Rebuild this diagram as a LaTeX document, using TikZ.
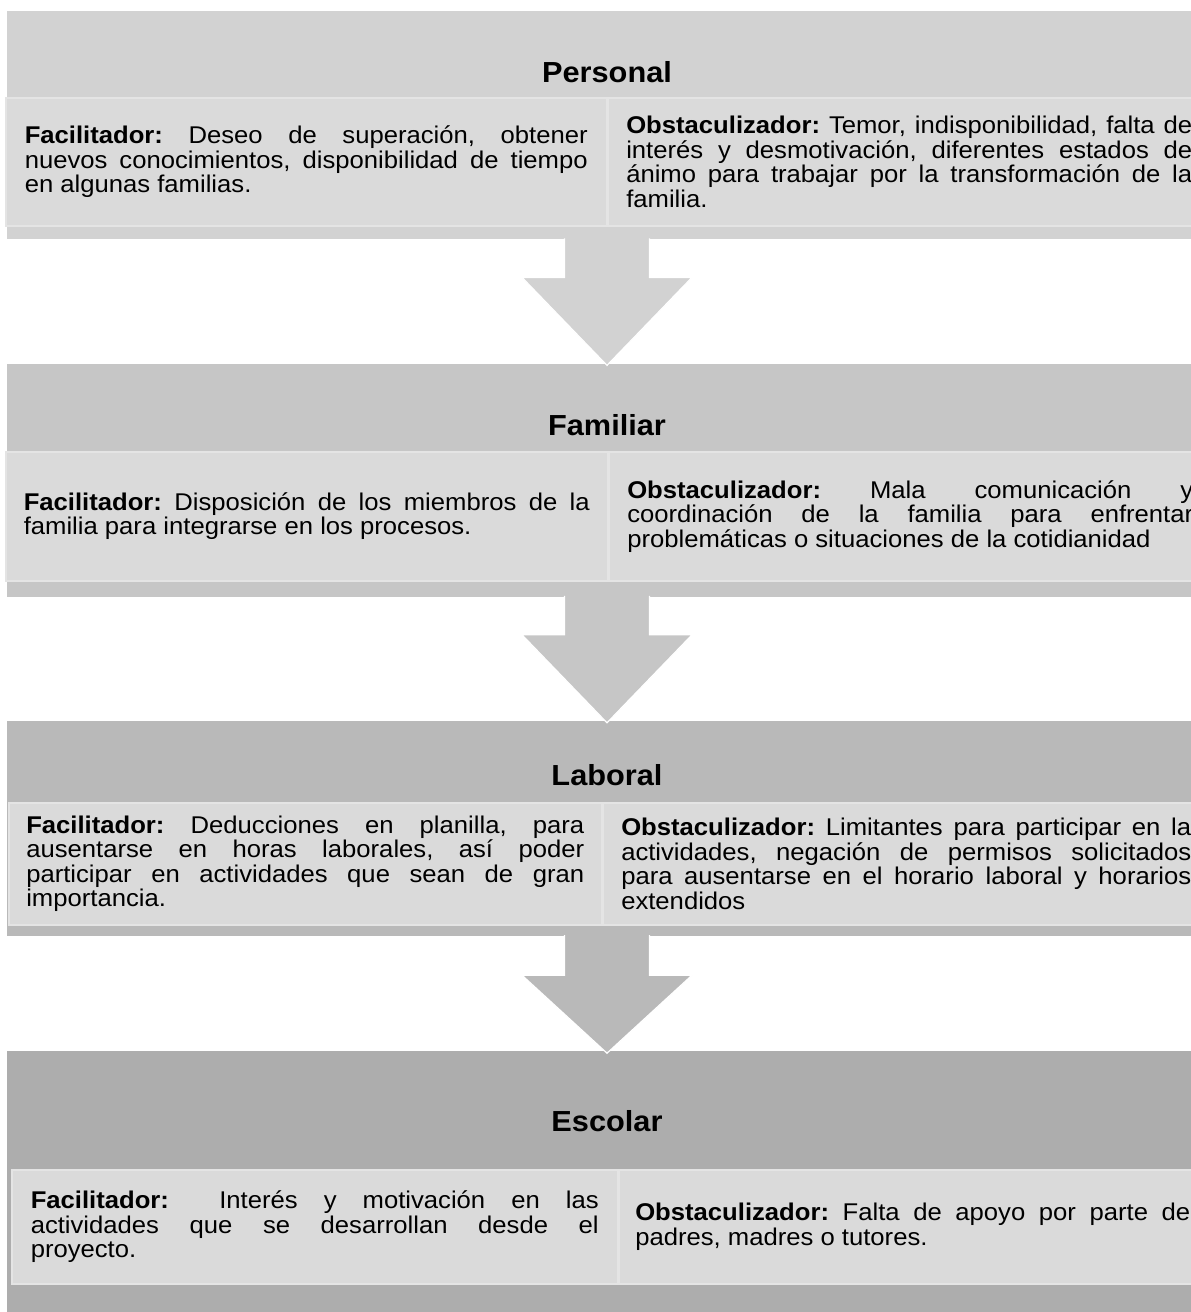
\documentclass[tikz,border=0pt]{standalone}
\usepackage{fontspec}
\setmainfont{Liberation Sans}[FakeStretch=1.06]
\usetikzlibrary{positioning, calc}

\definecolor{personalgray}{HTML}{D2D2D2}
\definecolor{familiargray}{HTML}{C6C6C6}
\definecolor{laboralgray}{HTML}{B9B9B9}
\definecolor{escolargray}{HTML}{ADADAD}
\definecolor{cellfill}{HTML}{DADADA}
\definecolor{cellline}{HTML}{E4E4E4}

\hyphenpenalty=10000
\tolerance=10000
\hbadness=10000
\frenchspacing

\begin{document}
\begin{tikzpicture}[
        x=1pt, y=-1pt,
        every node/.style={font=\fontsize{24.2}{24.5}\selectfont},
        panel/.style={minimum width=1200pt, inner sep=0pt, anchor=north},
        heading/.style={font=\fontsize{29}{29}\selectfont\bfseries, inner sep=0pt},
        cell/.style={draw=cellline, fill=cellfill, line width=1.5pt, align=justify, inner xsep=0pt, inner ysep=0pt, anchor=north west},
        bigarrow/.style={draw=white, line width=1.2pt, to path={
            ($(\tikztostart.south)+(42.5,-1)$) -- ($(\tikztotarget.north)+(42.5,-#1)$)
            -- ($(\tikztotarget.north)+(85,-#1)$) -- ($(\tikztotarget.north)+(0,2)$)
            -- ($(\tikztotarget.north)+(-85,-#1)$) -- ($(\tikztotarget.north)+(-42.5,-#1)$)
            -- ($(\tikztostart.south)+(-42.5,-1)$)}},
        bigarrow/.default=86
    ]
    \useasboundingbox (0,0) rectangle (1191,1312);
    \clip (0,0) rectangle (1191,1312);

    % Panels
    \node[panel, fill=personalgray, minimum height=228pt] (personal) at (607,11) {};
    \node[panel, fill=familiargray, minimum height=233pt, below=124pt of personal] (familiar) {};
    \node[panel, fill=laboralgray, minimum height=215pt, below=124pt of familiar] (laboral) {};
    \node[panel, fill=escolargray, minimum height=280pt, below=115pt of laboral] (escolar) {};

    % Titles
    \node[heading] (personaltitle) at (607,72) {Personal};
    \node[heading] (familiartitle) at (607,425) {Familiar};
    \node[heading] (laboraltitle) at (607,775) {Laboral};
    \node[heading] (escolartitle) at (607,1121) {Escolar};

    % Cells
    \node[cell, minimum width=601pt, minimum height=128pt, text width=563pt] (personalfac) at (5,97)
        {\textbf{Facilitador:} Deseo de superación, obtener\linebreak nuevos conocimientos, disponibilidad de tiempo\linebreak en algunas familias.};
    \node[cell, minimum width=602pt, minimum height=128pt, text width=566pt, right=0pt of personalfac] (personalobs)
        {\textbf{Obstaculizador:} Temor, indisponibilidad, falta de\linebreak interés y desmotivación, diferentes estados de\linebreak ánimo para trabajar por la transformación de la\linebreak familia.};

    \node[cell, minimum width=602pt, minimum height=129pt, text width=566pt] (familiarfac) at (5,451)
        {\textbf{Facilitador:} Disposición de los miembros de la\linebreak familia para integrarse en los procesos.};
    \node[cell, minimum width=602pt, minimum height=129pt, text width=566pt, right=0pt of familiarfac] (familiarobs)
        {\textbf{Obstaculizador:} Mala comunicación y\linebreak coordinación de la familia para enfrentar\linebreak problemáticas o situaciones de la cotidianidad};

    \node[cell, minimum width=593pt, minimum height=122pt, text width=558pt] (laboralfac) at (8,802)
        {\textbf{Facilitador:} Deducciones en planilla, para\linebreak ausentarse en horas laborales, así poder\linebreak participar en actividades que sean de gran\linebreak importancia.};
    \node[cell, minimum width=606pt, minimum height=122pt, text width=570pt, right=0pt of laboralfac] (laboralobs)
        {\textbf{Obstaculizador:} Limitantes para participar en la\linebreak actividades, negación de permisos solicitados\linebreak para ausentarse en el horario laboral y horarios\linebreak extendidos};

    \node[cell, minimum width=606pt, minimum height=114pt, text width=568pt] (escolarfac) at (11,1169)
        {\textbf{Facilitador:}\hspace{1em} Interés y motivación en las\linebreak actividades que se desarrollan desde el\linebreak proyecto.};
    \node[cell, minimum width=587pt, minimum height=114pt, text width=555pt, right=0pt of escolarfac] (escolarobs)
        {\textbf{Obstaculizador:} Falta de apoyo por parte de\linebreak padres, madres o tutores.};

    % Arrows
    \draw[bigarrow, fill=personalgray] (personal) to (familiar);
    \draw[bigarrow, fill=familiargray] (familiar) to (laboral);
    \draw[bigarrow=76, fill=laboralgray] (laboral) to (escolar);

\end{tikzpicture}
\end{document}
